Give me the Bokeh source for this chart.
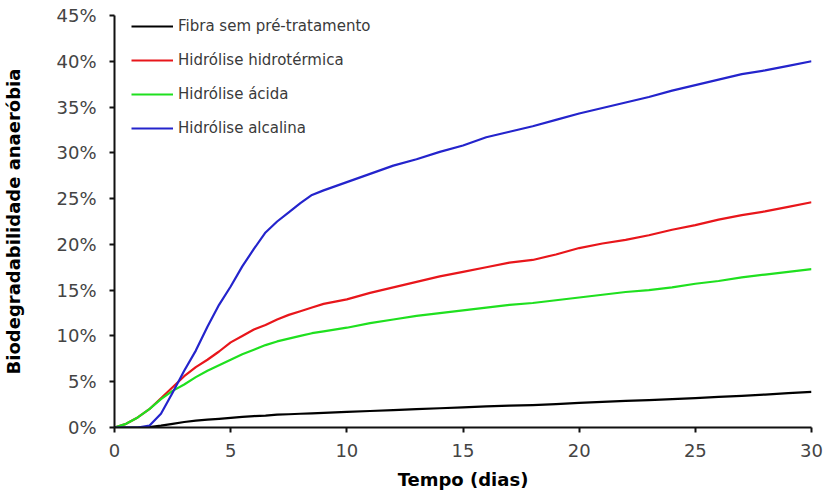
from bokeh.plotting import figure
from bokeh.models import ColumnDataSource, Range1d, FixedTicker, PrintfTickFormatter, Legend, LegendItem
from bokeh.embed import file_html
from bokeh.resources import INLINE

dias = [0, 0.5, 1, 1.5, 2, 2.5, 3, 3.5, 4, 4.5, 5, 5.5, 6, 6.5, 7, 7.5, 8, 8.5, 9,
        10, 11, 12, 13, 14, 15, 16, 17, 18, 19, 20, 21, 22, 23, 24, 25, 26, 27, 28, 29, 30]

fibra_sem = [0, 0, 0, 0.05, 0.2, 0.4, 0.6, 0.75, 0.85, 0.95, 1.05, 1.15, 1.25, 1.3, 1.4, 1.45, 1.5, 1.55, 1.6,
             1.7, 1.8, 1.9, 2.0, 2.1, 2.2, 2.3, 2.4, 2.45, 2.55, 2.7, 2.8, 2.9, 3.0, 3.1, 3.2, 3.35, 3.45, 3.6, 3.75, 3.9]

hidrotermica = [0, 0.4, 1.1, 2.0, 3.2, 4.4, 5.6, 6.6, 7.4, 8.3, 9.3, 10.0, 10.7, 11.2, 11.8, 12.3, 12.7, 13.1, 13.5,
                14.0, 14.7, 15.3, 15.9, 16.5, 17.0, 17.5, 18.0, 18.3, 18.9, 19.6, 20.1, 20.5, 21.0, 21.6, 22.1, 22.7, 23.2, 23.6, 24.1, 24.6]

acida = [0, 0.4, 1.1, 2.0, 3.1, 4.0, 4.7, 5.5, 6.2, 6.8, 7.4, 8.0, 8.5, 9.0, 9.4, 9.7, 10.0, 10.3, 10.5,
         10.9, 11.4, 11.8, 12.2, 12.5, 12.8, 13.1, 13.4, 13.6, 13.9, 14.2, 14.5, 14.8, 15.0, 15.3, 15.7, 16.0, 16.4, 16.7, 17.0, 17.3]

alcalina = [0, 0, 0, 0.2, 1.5, 3.8, 6.2, 8.4, 11.0, 13.4, 15.4, 17.6, 19.5, 21.3, 22.5, 23.5, 24.5, 25.4, 25.9,
            26.8, 27.7, 28.6, 29.3, 30.1, 30.8, 31.7, 32.3, 32.9, 33.6, 34.3, 34.9, 35.5, 36.1, 36.8, 37.4, 38.0, 38.6, 39.0, 39.5, 40.0]

series_names = ["Fibra sem pré-tratamento", "Hidrólise hidrotérmica", "Hidrólise ácida", "Hidrólise alcalina"]
series_values = [fibra_sem, hidrotermica, acida, alcalina]
series_colors = ["#000000", "#e8161b", "#1fe01f", "#2424cc"]

x_ticks = [0, 5, 10, 15, 20, 25, 30]
y_ticks = [0, 5, 10, 15, 20, 25, 30, 35, 40, 45]

p = figure(width=824, height=496, output_backend="svg", toolbar_location=None,
           x_range=Range1d(0, 30), y_range=Range1d(0, 45),
           min_border_left=113, min_border_right=13, min_border_top=15, min_border_bottom=69)
p.outline_line_color = None
p.xgrid.visible = False
p.ygrid.visible = False
p.background_fill_color = "white"
p.border_fill_color = "white"

src = {"dias": dias}
for i, v in enumerate(series_values):
    src["s%d" % i] = v
source = ColumnDataSource(src)

items = []
for i, (name, color) in enumerate(zip(series_names, series_colors)):
    r = p.line("dias", "s%d" % i, source=source, line_color=color, line_width=2.2, line_join="round")
    items.append(LegendItem(label=name, renderers=[r]))

legend = Legend(items=items, location=(17, 289), margin=0, padding=0,
                glyph_width=42, glyph_height=20, label_height=20, spacing=14, label_standoff=5,
                label_text_font="DejaVu Sans", label_text_font_size="15px", label_text_color="#3a3a3a",
                background_fill_alpha=0, border_line_color=None)
p.add_layout(legend, "center")

for ax in (p.xaxis[0], p.yaxis[0]):
    ax.axis_line_width = 2
    ax.axis_line_color = "#111111"
    ax.major_tick_line_width = 2
    ax.major_tick_line_color = "#111111"
    ax.major_tick_out = 5
    ax.major_tick_in = 0
    ax.minor_tick_line_color = None
    ax.major_label_text_font = "DejaVu Sans"
    ax.major_label_text_font_size = "18px"
    ax.major_label_text_color = "#444444"
    ax.axis_label_text_font = "DejaVu Sans"
    ax.axis_label_text_font_style = "bold"
    ax.axis_label_text_font_size = "18px"
    ax.axis_label_text_color = "#000000"

p.xaxis.ticker = FixedTicker(ticks=x_ticks)
p.yaxis.ticker = FixedTicker(ticks=y_ticks)
p.yaxis.formatter = PrintfTickFormatter(format="%d%%")
p.xaxis.axis_label = "Tempo (dias)"
p.yaxis.axis_label = "Biodegradabilidade anaeróbia"
p.xaxis.major_label_standoff = 11
p.yaxis.major_label_standoff = 13
p.xaxis.axis_label_standoff = 9
p.yaxis.axis_label_standoff = 29

open("out.html", "w").write(file_html(p, INLINE))
